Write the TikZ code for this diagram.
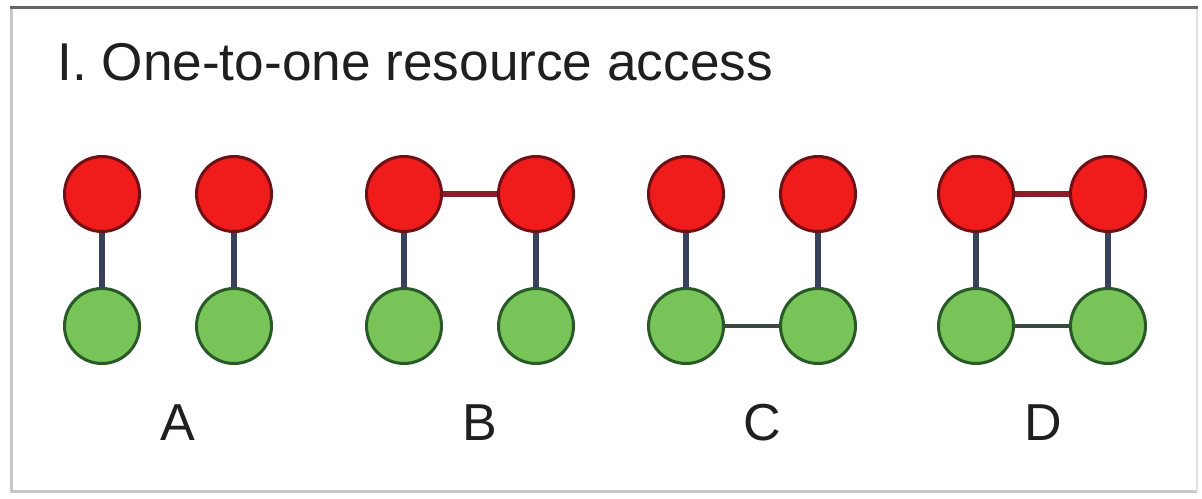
\documentclass[tikz,border=0pt]{standalone}
\usepackage{fontspec}
\setmainfont{Liberation Sans}
\definecolor{redfill}{HTML}{F01C1C}
\definecolor{reddraw}{HTML}{6E1016}
\definecolor{greenfill}{HTML}{79C458}
\definecolor{greendraw}{HTML}{285A28}
\definecolor{linkblue}{HTML}{39405C}
\definecolor{linkred}{HTML}{8C1C2A}
\definecolor{linkgreen}{HTML}{3A4A3C}
\begin{document}
\begin{tikzpicture}[x=0.5pt,y=-0.5pt,
  server/.style={circle,minimum size=37.5pt,inner sep=0pt,line width=1.5pt,fill=redfill,draw=reddraw},
  client/.style={circle,minimum size=37.5pt,inner sep=0pt,line width=1.5pt,fill=greenfill,draw=greendraw},
  access/.style={line width=3pt,draw=linkblue},
  peerred/.style={line width=2.8pt,draw=linkred},
  peergreen/.style={line width=1.6pt,draw=linkgreen},
  caption/.style={inner sep=0pt,anchor=base,font=\fontsize{26pt}{30pt}\selectfont,text=black!88}]
\useasboundingbox (0,0) rectangle (1202,498);
% panel frame
\fill[white] (10,7) rectangle (1198,492);
\draw[line width=1.5pt,draw=black!22] (11,8) -- (11,491) -- (1197,491);
\draw[line width=0.8pt,draw=black!12] (1197,491) -- (1197,8);
\draw[line width=1.5pt,draw=black!60] (10,7) -- (1198,7);
% title
\node[caption,anchor=base west,font=\fontsize{26.6pt}{30pt}\selectfont] (title) at (57,80) {I. One-to-one resource access};
% A
\node[server] (a1) at (102,194) {};
\node[server] (a2) at (234,194) {};
\node[client] (a3) at (102,326) {};
\node[client] (a4) at (234,326) {};
\draw[access] (a1) -- (a3);
\draw[access] (a2) -- (a4);
\node[caption] (la) at (178,440) {A};
% B
\node[server] (b1) at (404,194) {};
\node[server] (b2) at (536,194) {};
\node[client] (b3) at (404,326) {};
\node[client] (b4) at (536,326) {};
\draw[access] (b1) -- (b3);
\draw[access] (b2) -- (b4);
\draw[peerred] (b1) -- (b2);
\node[caption] (lb) at (480,440) {B};
% C
\node[server] (c1) at (686,194) {};
\node[server] (c2) at (818,194) {};
\node[client] (c3) at (686,326) {};
\node[client] (c4) at (818,326) {};
\draw[access] (c1) -- (c3);
\draw[access] (c2) -- (c4);
\draw[peergreen] (c3) -- (c4);
\node[caption] (lc) at (762,440) {C};
% D
\node[server] (d1) at (976,194) {};
\node[server] (d2) at (1108,194) {};
\node[client] (d3) at (976,326) {};
\node[client] (d4) at (1108,326) {};
\draw[access] (d1) -- (d3);
\draw[access] (d2) -- (d4);
\draw[peerred] (d1) -- (d2);
\draw[peergreen] (d3) -- (d4);
\node[caption] (ld) at (1043,440) {D};
\end{tikzpicture}
\end{document}
